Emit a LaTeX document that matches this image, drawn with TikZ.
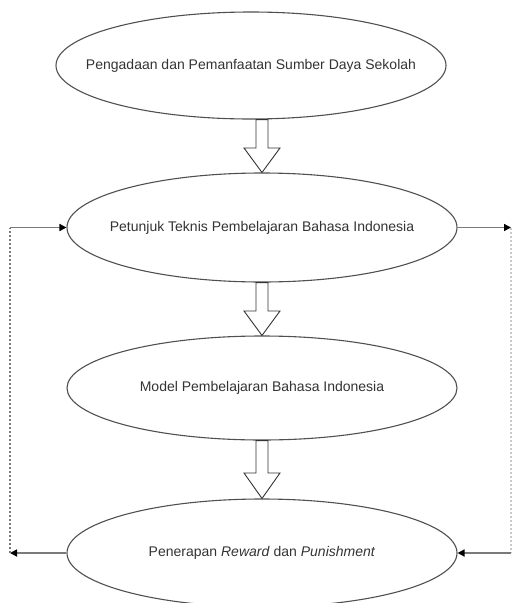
\documentclass[tikz,border=0pt]{standalone}
\usepackage{fontspec}
\setmainfont{Liberation Sans}
\usetikzlibrary{shapes.geometric,arrows.meta,calc}
\definecolor{txt}{HTML}{333333}
\definecolor{edge}{HTML}{505050}
\definecolor{conn}{HTML}{7A7A7A}
\begin{document}
\begin{tikzpicture}[x=1pt,y=-1pt,
  oval/.style={ellipse,draw=edge,line width=1.1pt,minimum width=390pt,inner sep=0pt},
  lbl/.style={text=txt,font=\fontsize{14}{16}\selectfont,inner sep=0pt},
  blockarrow/.style={draw=black!80,line width=0.9pt,fill=white,line join=miter},
  conn/.style={draw=conn,line width=1.6pt},
  tip/.style={-{Triangle[length=7pt,width=7pt,color=black]}},
  dashline/.style={draw=conn,line width=1.2pt,dash pattern=on 2pt off 2pt}]
\useasboundingbox (0,0) rectangle (513,603);
\node[oval,minimum height=107pt] (e1) at (251,65.5) {};
\node[oval,minimum height=109pt] (e2) at (262,227.5) {};
\node[oval,minimum height=104pt] (e3) at (262,388) {};
\node[oval,minimum height=108pt] (e4) at (262,553) {};
\node[lbl] (t1) at (e1) {Pengadaan dan Pemanfaatan Sumber Daya Sekolah};
\node[lbl] (t2) at (e2) {Petunjuk Teknis Pembelajaran Bahasa Indonesia};
\node[lbl] (t3) at (e3) {Model Pembelajaran Bahasa Indonesia};
\node[lbl] (t4) at (e4) {Penerapan \textit{Reward} dan \textit{Punishment}};
% block arrows
\foreach \a/\b/\h in {e1/e2/148,e2/e3/311,e3/e4/473}{
  \coordinate (top) at (\b.north |- \a.south);
  \draw[blockarrow] let \p1=(top) in
     (\x1-6pt,\y1) -- (\x1+6pt,\y1) -- (\x1+6pt,-\h pt) -- (\x1+18pt,-\h pt)
     -- (\b.north) -- (\x1-18pt,-\h pt) -- (\x1-6pt,-\h pt) -- cycle;
}
% feedback connectors
\coordinate (l1) at (10,227.5);
\coordinate (l2) at (10,553);
\coordinate (r1) at (511,227.5);
\coordinate (r2) at (511,553);
\draw[conn,tip] (e4.west) -- (l2);
\draw[dashline] (l2) -- (l1);
\draw[conn,tip] (l1) -- (e2.west);
\draw[conn,tip] (e2.east) -- (r1);
\draw[dashline,draw=conn!40] (r1) -- (r2);
\draw[conn,tip] (r2) -- (e4.east);
\end{tikzpicture}
\end{document}
